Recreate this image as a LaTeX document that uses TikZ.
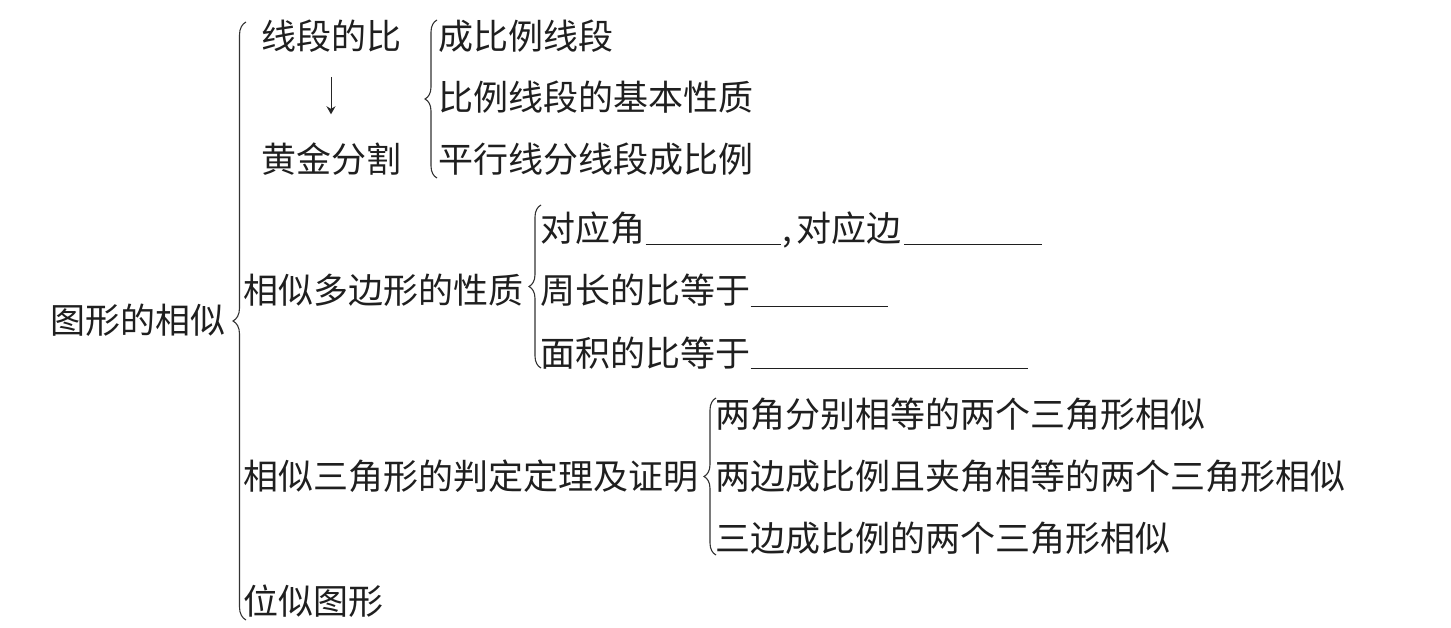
\documentclass[tikz,border=0pt]{standalone}
\usepackage{fontspec}
\setmainfont{Noto Sans CJK SC}
\usetikzlibrary{decorations.pathreplacing,arrows.meta}
\begin{document}
\begin{tikzpicture}[x=1pt,y=1pt,
  every node/.style={inner sep=0pt, outer sep=0pt, text=black!88,
    font=\fontsize{35}{40}\selectfont},
  lbl/.style={anchor=base west},
  ctr/.style={anchor=base},
  brc/.style={decorate, decoration={brace, amplitude=#1}, line width=1.1pt, draw=black!80},
  brc/.default=12pt,
  darrow/.style={-{Stealth[length=8pt,width=9pt]}, line width=1pt, draw=black!85,
    shorten <=24pt, shorten >=29pt}
]
\useasboundingbox (0,0) rectangle (1451,-628);
\def\bl#1{\rule[-3pt]{#1pt}{1pt}}

% root
\node[lbl] (root) at (50.5,-334) {图形的相似};
\draw[brc=13pt] (246,-620) -- (246,-22);

% first group
\node[ctr] (xdb) at (331,-50) {线段的比};
\node[ctr] (hjfg) at (331,-173) {黄金分割};
\draw[darrow] (xdb.south) -- (hjfg.north);
\draw[brc] (437,-178) -- (437,-20);
\node[lbl] (a1) at (438.5,-50) {成比例线段};
\node[lbl] (a2) at (438.5,-111) {比例线段的基本性质};
\node[lbl] (a3) at (438.5,-173) {平行线分线段成比例};

% polygons
\node[lbl] (poly) at (243.5,-304) {相似多边形的性质};
\draw[brc] (541,-368) -- (541,-205);
\node[lbl] (p1) at (540.5,-242) {对应角\bl{135}\hspace{2pt},\hspace{4pt}对应边\hspace{3pt}\bl{138}};
\node[lbl] (p2) at (540.5,-304) {周长的比等于\bl{137}};
\node[lbl] (p3) at (540.5,-366) {面积的比等于\bl{277}};

% triangles
\node[lbl] (tri) at (243.5,-489) {相似三角形的判定定理及证明};
\draw[brc] (716,-555) -- (716,-398);
\node[lbl] (t1) at (715.5,-427) {两角分别相等的两个三角形相似};
\node[lbl] (t2) at (715.5,-489) {两边成比例且夹角相等的两个三角形相似};
\node[lbl] (t3) at (715.5,-551) {三边成比例的两个三角形相似};

% homothety
\node[lbl] (ws) at (243.5,-614) {位似图形};
\end{tikzpicture}
\end{document}
